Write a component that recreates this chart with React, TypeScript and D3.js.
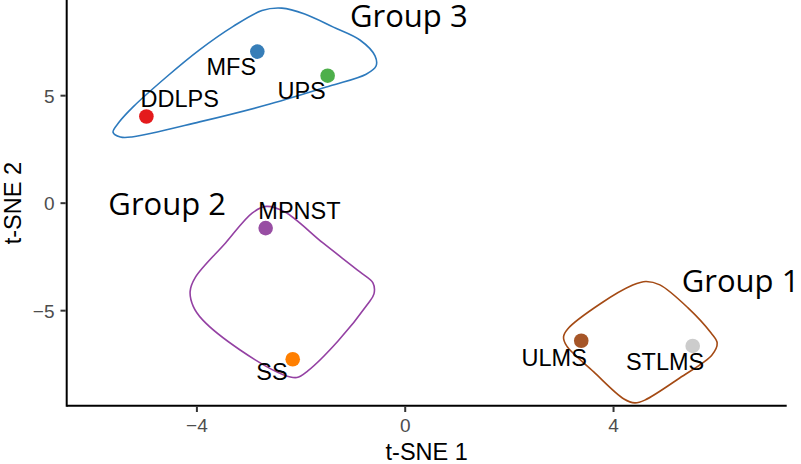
import React from 'react';
import * as d3 from 'd3';

// samples: t-SNE coordinates
const sampleNames = ['DDLPS', 'MFS', 'UPS', 'MPNST', 'SS', 'ULMS', 'STLMS'];
const tsne1 = [-4.97, -2.84, -1.49, -2.68, -2.16, 3.38, 5.52];
const tsne2 = [4.03, 7.05, 5.93, -1.16, -7.26, -6.4, -6.64];
const sampleColors = ['#E41A1C', '#377EB8', '#4DAF4A', '#984EA3', '#FF7F00', '#A65628', '#CCCCCC'];

// repelled label anchors (data units: centre x, baseline y)
const labelX = [-4.33, -3.34, -1.99, -2.03, -2.56, 2.86, 4.99];
const labelY = [4.49, 5.96, 4.83, -0.73, -8.22, -7.57, -7.76];

// hand-drawn group outlines (data units)
const group3Outline: [number, number][] = [
  [-5.61, 3.3], [-5.47, 3.08], [-5.25, 3.08], [-3.95, 3.78], [-2.6, 4.61], [-1.45, 5.45],
  [-0.75, 6.0], [-0.56, 6.38], [-0.58, 6.85], [-0.87, 7.59], [-1.39, 8.2], [-1.93, 8.8],
  [-2.37, 9.07], [-2.75, 8.96], [-3.31, 8.21], [-3.95, 7.13], [-4.58, 5.88], [-5.22, 4.49],
  [-5.5, 3.75],
];
const group2Outline: [number, number][] = [
  [-2.67, -0.15], [-2.31, -0.41], [-1.58, -1.85], [-0.87, -3.2], [-0.62, -3.71], [-0.6, -4.22],
  [-0.72, -4.69], [-1.29, -6.41], [-1.87, -7.8], [-2.08, -8.11], [-2.33, -7.99], [-3.17, -6.83],
  [-3.89, -5.43], [-4.07, -4.8], [-4.13, -4.1], [-4.03, -3.45], [-3.45, -1.85], [-2.94, -0.46],
];
const group1Outline: [number, number][] = [
  [4.62, -3.64], [4.89, -3.8], [5.43, -4.87], [5.87, -6.03], [5.99, -6.5], [5.89, -7.06],
  [5.27, -8.13], [4.6, -9.16], [4.41, -9.29], [4.2, -9.11], [3.62, -7.85], [3.1, -6.64],
  [3.04, -6.22], [3.12, -5.85], [3.74, -4.69], [4.37, -3.81],
];
const groupNames = ['Group 3', 'Group 2', 'Group 1'];
const groupOutlines = [group3Outline, group2Outline, group1Outline];
const groupColors = ['#2D7ABD', '#9441A3', '#A44A14'];
const groupLabelX = [-1.06, -5.7, 5.31];
const groupLabelY = [8.21, -0.55, -4.12];

const xTicks = [-4, 0, 4];
const yTicks = [-5, 0, 5];

const W = 801;
const H = 464;

const App: React.FC = () => {
  const x = d3.scaleLinear().domain([-6.5, 7.325]).range([66.7, 786.7]);
  const y = d3.scaleLinear().domain([-9.42, 9.45]).range([405.7, 0]);
  const fmt = (v: number) => (v < 0 ? '\u2212' + Math.abs(v) : String(v));

  const outline = d3.line<[number, number]>()
    .x(d => x(d[0]))
    .y(d => y(d[1]))
    .curve(d3.curveCatmullRomClosed.alpha(0.5));

  const labelFont = '"Liberation Sans", Arial, sans-serif';

  return (
    <svg width={W} height={H} style={{ position: 'absolute', left: 0, top: 0, background: '#fff' }}>
      {/* outlines */}
      {groupOutlines.map((pts, i) => (
        <path key={groupNames[i]} d={outline(pts) || ''} fill="none" stroke={groupColors[i]} strokeWidth={1.6} />
      ))}

      {/* points */}
      {sampleNames.map((s, i) => (
        <circle key={s} cx={x(tsne1[i])} cy={y(tsne2[i])} r={7.3} fill={sampleColors[i]} />
      ))}

      {/* sample labels */}
      {sampleNames.map((s, i) => (
        <text key={s + '-lab'} x={x(labelX[i])} y={y(labelY[i])} textAnchor="middle"
          fontFamily={labelFont} fontSize={23.5} fill="#000">{s}</text>
      ))}

      {/* group labels */}
      {groupNames.map((g, i) => (
        <text key={g} x={x(groupLabelX[i])} y={y(groupLabelY[i])}
          fontFamily='"Open Sans", sans-serif' fontSize={31} fill="#000">{g}</text>
      ))}

      {/* axes */}
      <line x1={x.range()[0]} x2={x.range()[1]} y1={405.7} y2={405.7} stroke="#000" strokeWidth={2} />
      <line x1={66.7} x2={66.7} y1={0} y2={406.7} stroke="#000" strokeWidth={2} />
      {xTicks.map(t => (
        <g key={'x' + t} transform={`translate(${x(t)},0)`}>
          <line y1={406.7} y2={412} stroke="#333" strokeWidth={2} />
          <text y={432} textAnchor="middle" fontFamily={labelFont} fontSize={19} fill="#4D4D4D">{fmt(t)}</text>
        </g>
      ))}
      {yTicks.map(t => (
        <g key={'y' + t} transform={`translate(0,${y(t)})`}>
          <line x1={60.5} x2={65.7} stroke="#333" strokeWidth={2} />
          <text x={54.5} dy="0.36em" textAnchor="end" fontFamily={labelFont} fontSize={19} fill="#4D4D4D">{fmt(t)}</text>
        </g>
      ))}
      <text x={426.7} y={460} textAnchor="middle" fontFamily={labelFont} fontSize={23.5} fill="#000">t-SNE 1</text>
      <text transform={`translate(20.5,${y(0)}) rotate(-90)`} textAnchor="middle" fontFamily={labelFont} fontSize={23.5} fill="#000">t-SNE 2</text>
    </svg>
  );
};

export default App;
